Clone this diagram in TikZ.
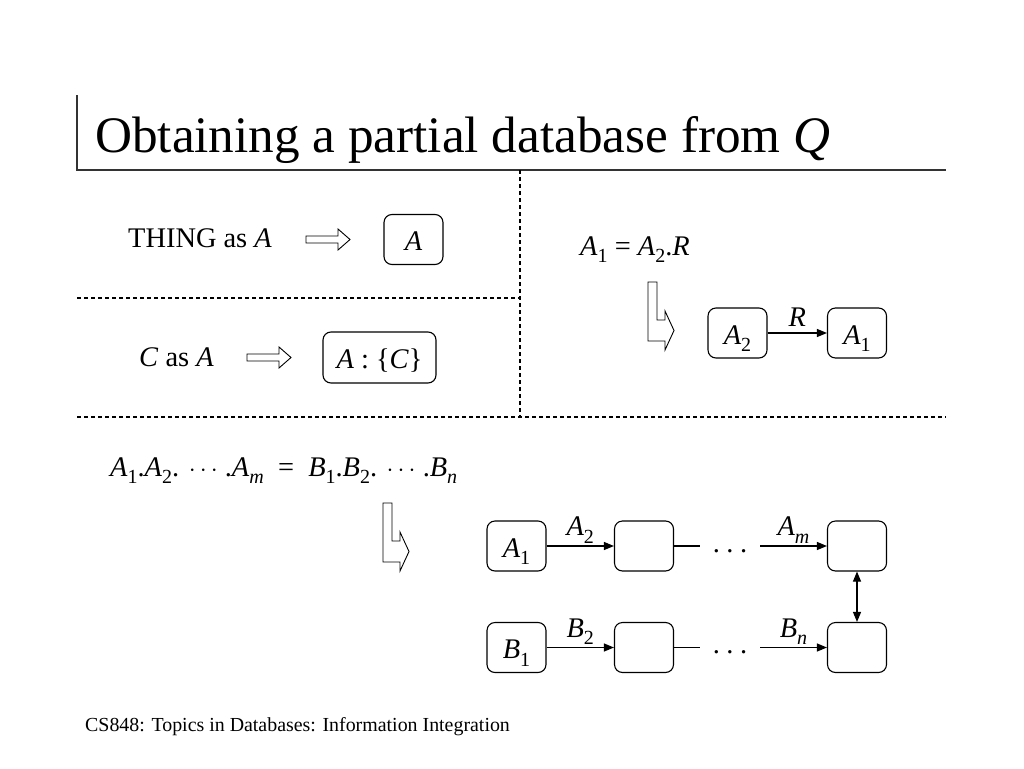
\documentclass[tikz,border=0pt]{standalone}
\usepackage{fontspec}
\setmainfont{Liberation Serif}
\usepackage{graphicx}
\usetikzlibrary{arrows.meta}
\newcommand\bodyfont{\fontsize{28.4}{34}\selectfont}
\newcommand\titlefont{\fontsize{51.2}{60}\selectfont}
\newcommand\footfont{\fontsize{19.9}{23}\selectfont}
\newcommand\sbs[1]{\raisebox{-0.28em}{\fontsize{20}{24}\selectfont #1}}
\newcommand\iv[1]{\textit{#1}}
\begin{document}
\begin{tikzpicture}[x=1pt,y=-1pt,
  box/.style={draw, line width=1.1pt, rounded corners=8pt, minimum width=59pt, minimum height=50pt, inner sep=0pt, text height=23pt, text depth=1pt, font=\bodyfont},
  lbl/.style={font=\bodyfont, inner sep=0pt},
  conn/.style={line width=1.1pt, -{Triangle[length=10pt,width=8pt]}},
  plain/.style={line width=1.1pt},
  dline/.style={line width=1.2pt, dash pattern=on 4pt off 3pt},
  sline/.style={line width=1.4pt, draw=black!80},
  hollow/.style={draw, line width=0.9pt, fill=white},
  hollowR/.pic={\path[hollow] (0,-3.5) -- (32,-3.5) -- (32,-10.5) -- (44,0) -- (32,10.5) -- (32,3.5) -- (0,3.5) -- cycle;},
  hollowL/.pic={\path[hollow] (0,0) -- (9,0) -- (9,38) -- (17,38) -- (17,29) -- (26,48.5) -- (17,68) -- (17,59) -- (0,59) -- cycle;}
]
\useasboundingbox (0,0) rectangle (1024,768);

% frame lines
\draw[sline] (77,95) -- (77,170) -- (946,170);
\draw[dline] (520,170) -- (520,417);
\draw[dline] (77,298) -- (520,298);
\draw[dline] (77,417) -- (946,417);

% title
\node[anchor=base west, inner sep=0pt, font=\titlefont] (title) at (95,152) {Obtaining a partial database from \iv{Q}};

% panel 1
\node[lbl, anchor=base west] (thing) at (128,247) {THING as \iv{A}};
\pic at (306,239.5) {hollowR};
\node[box] (bA) at (413.5,239.5) {\iv{A}};

% panel 2
\node[lbl, anchor=base west] (cas) at (139,366) {\iv{C} as \iv{A}};
\pic at (247,357.5) {hollowR};
\node[box, minimum width=113pt, minimum height=51pt] (bAC) at (379.5,357.5) {\iv{A} : \{\iv{C}\}};

% panel 3
\node[lbl, anchor=base west] (eq1) at (580,255) {\iv{A}\sbs{1} = \iv{A}\sbs{2}.\iv{R}};
\pic at (648,282) {hollowL};
\node[box] (rA2) at (737.5,333) {\iv{A}\sbs{2}};
\node[box] (rA1) at (857,333) {\iv{A}\sbs{1}};
\draw[conn] (rA2) -- node[lbl, above=6pt] {\iv{R}} (rA1);

% panel 4
\node[lbl, anchor=base west] (eq2) at (110,476) {\iv{A}\sbs{1}.\iv{A}\sbs{2}. $\cdots$ .\iv{A}\sbs{\iv{m}} \ = \ \iv{B}\sbs{1}.\iv{B}\sbs{2}. $\cdots$ .\iv{B}\sbs{\iv{n}}};
\pic at (383,503) {hollowL};

\node[box] (a1) at (516.5,546) {\iv{A}\sbs{1}};
\node[box] (a2) at (644,546) {};
\node[box] (a3) at (857,546) {};
\node[box] (b1) at (516.5,647.5) {\iv{B}\sbs{1}};
\node[box] (b2) at (644,647.5) {};
\node[box] (b3) at (857,647.5) {};

\coordinate (ae) at (700,546);
\coordinate (as) at (760,546);
\coordinate (be) at (700,647.5);
\coordinate (bs) at (760,647.5);
\node[lbl, anchor=base] (adots) at (730,552) {.\hspace{6.5pt}.\hspace{6.5pt}.};
\node[lbl, anchor=base] (bdots) at (730,653.5) {.\hspace{6.5pt}.\hspace{6.5pt}.};

\draw[conn] (a1) -- node[lbl, above=2pt] {\iv{A}\sbs{2}} (a2);
\draw[plain] (a2) -- (ae);
\draw[conn] (as) -- node[lbl, above=2pt] {\iv{A}\sbs{\iv{m}}} (a3);
\draw[conn] (b1) -- node[lbl, above=2pt] {\iv{B}\sbs{2}} (b2);
\draw[plain] (b2) -- (be);
\draw[conn] (bs) -- node[lbl, above=2pt] {\iv{B}\sbs{\iv{n}}} (b3);
\draw[line width=1.1pt, {Triangle[length=10pt,width=8pt]}-{Triangle[length=10pt,width=8pt]}] (a3) -- (b3);

% footer
\node[anchor=base west, inner sep=0pt, font=\footfont] (foot) at (85,731) {CS848: Topics in Databases: Information Integration};
\end{tikzpicture}
\end{document}
